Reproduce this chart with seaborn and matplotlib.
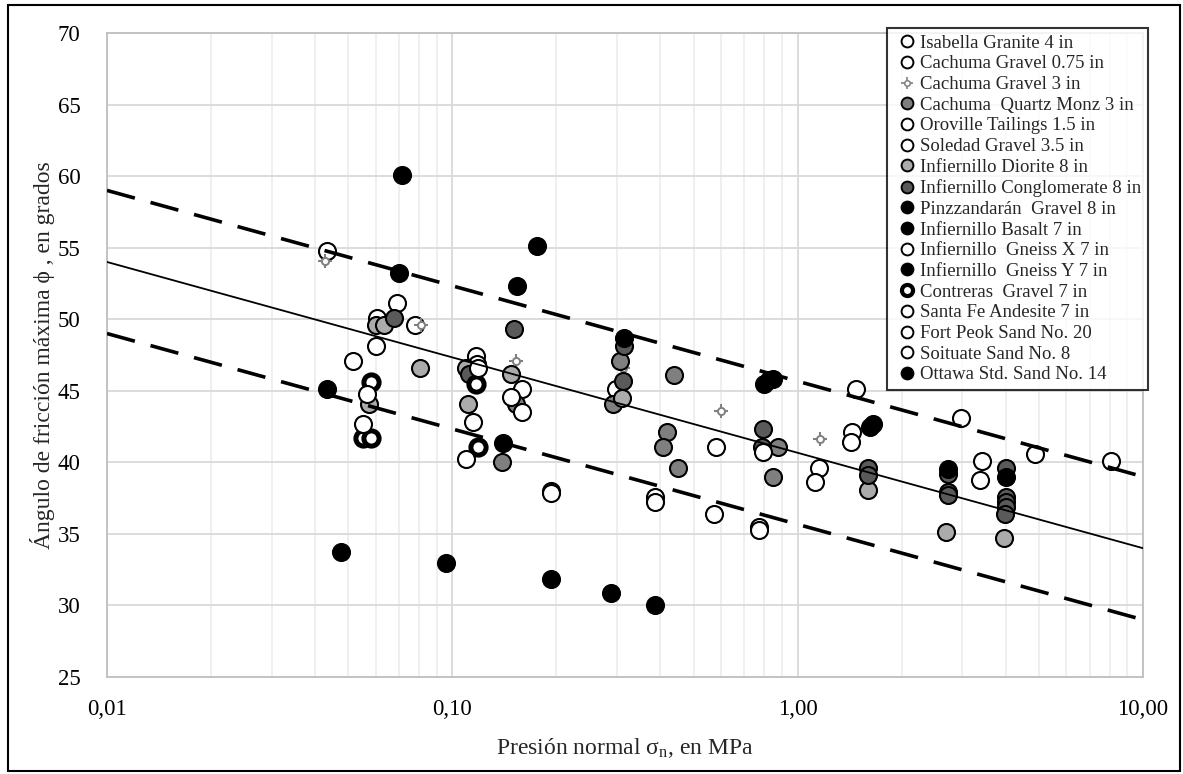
import numpy as np
import pandas as pd
import matplotlib
matplotlib.use("Agg")
import matplotlib.pyplot as plt
from matplotlib.lines import Line2D
from matplotlib.patches import Rectangle
import seaborn as sns

# ---- data: normal stress (MPa) and peak friction angle (degrees) per material ----
series_names = [
    "Isabella Granite 4 in",
    "Cachuma Gravel 0.75 in",
    "Cachuma Gravel 3 in",
    "Cachuma  Quartz Monz 3 in",
    "Oroville Tailings 1.5 in",
    "Soledad Gravel 3.5 in",
    "Infiernillo Diorite 8 in",
    "Infiernillo Conglomerate 8 in",
    "Pinzzandarán  Gravel 8 in",
    "Infiernillo Basalt 7 in",
    "Infiernillo  Gneiss X 7 in",
    "Infiernillo  Gneiss Y 7 in",
    "Contreras  Gravel 7 in",
    "Santa Fe Andesite 7 in",
    "Fort Peok Sand No. 20",
    "Soituate Sand No. 8",
    "Ottawa Std. Sand No. 14",
]

isabella_sigma = [1.48, 2.97, 4.86, 8.07]
isabella_phi = [45.1, 43.1, 40.6, 40.1]

cachuma075_sigma = [0.0434, 0.078, 0.159, 0.297, 0.582, 1.15]
cachuma075_phi = [54.8, 49.6, 45.1, 45.1, 41.1, 39.6]

cachuma3_sigma = [0.0428, 0.081, 0.153, 0.313, 0.60, 1.16]
cachuma3_phi = [54.1, 49.6, 47.1, 46.6, 43.6, 41.6]

quartz_sigma = [0.139, 0.153, 0.305, 0.291, 0.437, 0.418, 0.408, 0.450, 0.875, 0.851]
quartz_phi = [40.0, 44.1, 47.1, 44.1, 46.1, 42.1, 41.1, 39.6, 41.1, 39.0]

oroville_sigma = [1.44, 1.43, 3.41, 3.37, 1.12]
oroville_phi = [42.1, 41.4, 40.1, 38.8, 38.6]

soledad_sigma = [0.0693, 0.0606, 0.1174, 0.118]
soledad_phi = [51.1, 50.1, 47.4, 46.9]

diorite_sigma = [0.0602, 0.0635, 0.0808, 0.0575, 0.111, 0.1098, 0.148, 0.309, 1.596, 2.69, 3.95]
diorite_phi = [49.6, 49.6, 46.6, 44.1, 44.1, 46.6, 46.2, 44.5, 38.1, 35.1, 34.7]

conglom_sigma = [0.068, 0.1115, 0.151, 0.315, 0.313, 0.792, 0.789, 1.60, 1.60,
                 2.72, 2.72, 2.72, 4.01, 4.01, 4.01, 4.01, 3.99]
conglom_phi = [50.1, 46.2, 49.3, 48.1, 45.7, 42.3, 41.1, 39.6, 39.1,
               39.2, 37.9, 37.7, 39.6, 37.6, 37.2, 36.9, 36.4]

pinzz_sigma = [0.0716, 0.1764, 0.1543]
pinzz_phi = [60.1, 55.1, 52.3]

basalt_sigma = [0.0702, 0.315, 0.797, 0.824, 0.851]
basalt_phi = [53.2, 48.7, 45.5, 45.75, 45.8]

gneissx_sigma = [0.792, 0.771, 0.771, 0.385, 0.385, 0.574]
gneissx_phi = [40.7, 35.5, 35.3, 37.6, 37.2, 36.4]

gneissy_sigma = [0.0434, 0.1406, 1.617, 1.649, 2.72, 4.01]
gneissy_phi = [45.1, 41.35, 42.5, 42.7, 39.5, 39.0]

contreras_sigma = [0.0582, 0.0552, 0.0582, 0.1174, 0.119]
contreras_phi = [45.6, 41.7, 41.7, 45.5, 41.1]

santafe_sigma = [0.119, 0.148, 0.1596]
santafe_phi = [46.6, 44.6, 43.5]

fortpeok_sigma = [0.0602, 0.0516, 0.0567, 0.0552]
fortpeok_phi = [48.1, 47.1, 44.8, 42.7]

soituate_sigma = [0.115, 0.1098, 0.1936, 0.1936]
soituate_phi = [42.8, 40.2, 38.0, 37.85]

ottawa_sigma = [0.0477, 0.0961, 0.1936, 0.289, 0.385]
ottawa_phi = [33.7, 33.0, 31.85, 30.9, 30.0]

series_sigma = [isabella_sigma, cachuma075_sigma, cachuma3_sigma, quartz_sigma,
                oroville_sigma, soledad_sigma, diorite_sigma, conglom_sigma,
                pinzz_sigma, basalt_sigma, gneissx_sigma, gneissy_sigma,
                contreras_sigma, santafe_sigma, fortpeok_sigma, soituate_sigma,
                ottawa_sigma]
series_phi = [isabella_phi, cachuma075_phi, cachuma3_phi, quartz_phi,
              oroville_phi, soledad_phi, diorite_phi, conglom_phi,
              pinzz_phi, basalt_phi, gneissx_phi, gneissy_phi,
              contreras_phi, santafe_phi, fortpeok_phi, soituate_phi,
              ottawa_phi]

# trend line (mean) and envelope (+/- 5 degrees)
line_sigma = [0.01, 10.0]
line_mean = [54.0, 34.0]
line_upper = [59.0, 39.0]
line_lower = [49.0, 29.0]

x_ticks = [0.01, 0.1, 1.0, 10.0]
x_tick_labels = ["0,01", "0,10", "1,00", "10,00"]
y_ticks = [25, 30, 35, 40, 45, 50, 55, 60, 65, 70]

# ---- marker styles ----
WHITE, LIGHT, MID, DARK, BLACK = "#ffffff", "#ababab", "#7f7f7f", "#5a5a5a", "#000000"
face = {
    "Isabella Granite 4 in": WHITE, "Cachuma Gravel 0.75 in": WHITE,
    "Cachuma Gravel 3 in": None, "Cachuma  Quartz Monz 3 in": MID,
    "Oroville Tailings 1.5 in": WHITE, "Soledad Gravel 3.5 in": WHITE,
    "Infiernillo Diorite 8 in": LIGHT, "Infiernillo Conglomerate 8 in": DARK,
    "Pinzzandarán  Gravel 8 in": BLACK, "Infiernillo Basalt 7 in": BLACK,
    "Infiernillo  Gneiss X 7 in": WHITE, "Infiernillo  Gneiss Y 7 in": BLACK,
    "Contreras  Gravel 7 in": WHITE, "Santa Fe Andesite 7 in": WHITE,
    "Fort Peok Sand No. 20": WHITE, "Soituate Sand No. 8": WHITE,
    "Ottawa Std. Sand No. 14": BLACK,
}

sns.set_style("white")
plt.rcParams["font.family"] = ["Liberation Serif", "DejaVu Serif"]
plt.rcParams["mathtext.fontset"] = "custom"
plt.rcParams["mathtext.rm"] = "Liberation Serif"
plt.rcParams["mathtext.it"] = "Liberation Serif:italic"

rows = []
for name, xs, ys in zip(series_names, series_sigma, series_phi):
    for x, y in zip(xs, ys):
        rows.append({"serie": name, "sigma": x, "phi": y})
df = pd.DataFrame(rows)

fig = plt.figure(figsize=(11.83, 7.74), dpi=100)
ax = fig.add_axes([107 / 1183, 1 - 677 / 774, (1143 - 107) / 1183, (677 - 33) / 774])

ax.set_xscale("log")
ax.set_xlim(0.01, 10)
ax.set_ylim(25, 70)

# gridlines
ax.set_axisbelow(True)
ax.grid(True, which="major", axis="both", color="#d9d9d9", lw=1.3)
ax.grid(True, which="minor", axis="x", color="#eeeeee", lw=1.3)
for s in ax.spines.values():
    s.set_color("#bfbfbf")
    s.set_linewidth(1.3)

for name in series_names:
    sub = df[df["serie"] == name]
    if name == "Cachuma Gravel 3 in":
        sns.scatterplot(data=sub, x="sigma", y="phi", ax=ax, marker="+", s=100,
                        color="#808080", linewidth=1.5, legend=False, zorder=3)
        sns.scatterplot(data=sub, x="sigma", y="phi", ax=ax, marker="o", s=26,
                        color="white", edgecolor="#808080", linewidth=1.4,
                        legend=False, zorder=3)
    elif name == "Contreras  Gravel 7 in":
        sns.scatterplot(data=sub, x="sigma", y="phi", ax=ax, marker="o", s=120,
                        color="white", edgecolor="black", linewidth=3.6,
                        legend=False, zorder=3)
    else:
        sns.scatterplot(data=sub, x="sigma", y="phi", ax=ax, marker="o", s=150,
                        color=face[name], edgecolor="black", linewidth=1.5,
                        legend=False, zorder=3)

# trend and envelope lines
ax.plot(line_sigma, line_mean, color="black", lw=1.3, zorder=4)
ax.plot(line_sigma, line_upper, color="black", lw=2.6, ls=(0, (8, 4.5)), zorder=4)
ax.plot(line_sigma, line_lower, color="black", lw=2.6, ls=(0, (8, 4.5)), zorder=4)

ax.set_xticks(x_ticks)
ax.set_xticklabels(x_tick_labels)
ax.xaxis.set_minor_formatter(matplotlib.ticker.NullFormatter())
ax.set_yticks(y_ticks)
ax.tick_params(axis="both", which="both", length=0, labelsize=16.5, colors="black")
ax.tick_params(axis="x", pad=16)
ax.tick_params(axis="y", pad=19)

ax.set_xlabel(r"Presión normal σ$_\mathrm{n}$, en MPa", fontsize=17, labelpad=11)
ax.set_ylabel("Ángulo de fricción máxima ϕ , en grados", fontsize=17, labelpad=2)

# legend
handles = []
for name in series_names:
    if name == "Cachuma Gravel 3 in":
        h = (Line2D([], [], ls="none", marker="+", markersize=8,
                    markeredgecolor="#808080", markeredgewidth=1.2),
             Line2D([], [], ls="none", marker="o", markersize=4,
                    markerfacecolor="white", markeredgecolor="#808080",
                    markeredgewidth=1.1))
    elif name == "Contreras  Gravel 7 in":
        h = Line2D([], [], ls="none", marker="o", markersize=8, markerfacecolor="white",
                   markeredgecolor="black", markeredgewidth=3.0)
    else:
        h = Line2D([], [], ls="none", marker="o", markersize=8.5,
                   markerfacecolor=face[name], markeredgecolor="black",
                   markeredgewidth=1.4)
    handles.append(h)
leg = ax.legend(handles, series_names, loc="upper right",
                bbox_to_anchor=(1148 / 1183, 1 - 28 / 774),
                bbox_transform=fig.transFigure, borderaxespad=0,
                fontsize=13.5, labelspacing=0.19, handlelength=1.4,
                handletextpad=0.0, borderpad=0.35, frameon=True, fancybox=False)
leg.get_frame().set_edgecolor("black")
leg.get_frame().set_linewidth(1.5)
leg.set_zorder(6)

# outer frame of the figure
fig.patches.append(Rectangle((8 / 1183, 3 / 774), 1172 / 1183, 766 / 774,
                             transform=fig.transFigure, fill=False,
                             edgecolor="black", lw=1.5))

fig.savefig("out.png", dpi=100)
